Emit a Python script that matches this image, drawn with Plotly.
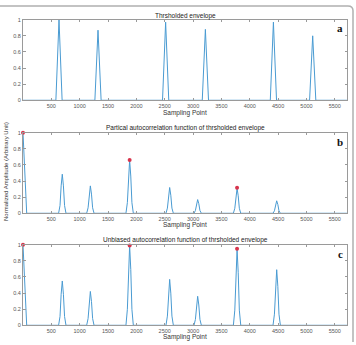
import plotly.graph_objects as go
from plotly.subplots import make_subplots

# ---------------- data ----------------
# Panel a: thresholded envelope (triangular peaks)
a_x = [0, 580, 635, 690, 1268, 1323, 1378, 2461, 2516, 2571, 3162, 3217, 3272,
       4362, 4417, 4472, 5055, 5110, 5165, 5715]
a_y = [0, 0, 1.0, 0, 0, 0.87, 0, 0, 0.97, 0, 0, 0.88, 0,
       0, 0.97, 0, 0, 0.80, 0, 0]

# Panel b: partial autocorrelation
b_x = [0, 20, 40, 65,
       628, 653, 673, 693, 713, 733, 758,
       1123, 1148, 1168, 1188, 1208, 1228, 1253,
       1816, 1841, 1861, 1881, 1901, 1921, 1946,
       2522, 2547, 2567, 2587, 2607, 2627, 2652,
       3016, 3041, 3061, 3081, 3101, 3121, 3146,
       3711, 3736, 3756, 3776, 3796, 3816, 3841,
       4410, 4435, 4455, 4475, 4495, 4515, 4540,
       5715]
b_y = [1.0, 0.7, 0.2, 0,
       0, 0.097, 0.34, 0.485, 0.34, 0.097, 0,
       0, 0.068, 0.238, 0.34, 0.238, 0.068, 0,
       0, 0.132, 0.462, 0.66, 0.462, 0.132, 0,
       0, 0.064, 0.224, 0.32, 0.224, 0.064, 0,
       0, 0.034, 0.119, 0.17, 0.119, 0.034, 0,
       0, 0.062, 0.217, 0.31, 0.217, 0.062, 0,
       0, 0.031, 0.109, 0.155, 0.109, 0.031, 0,
       0]
b_mark_x = [0, 1881, 3776]
b_mark_y = [1.0, 0.66, 0.318]

# Panel c: unbiased autocorrelation
c_x = b_x
c_y = [1.0, 0.7, 0.2, 0,
       0, 0.11, 0.385, 0.55, 0.385, 0.11, 0,
       0, 0.084, 0.294, 0.42, 0.294, 0.084, 0,
       0, 0.198, 0.693, 0.99, 0.693, 0.198, 0,
       0, 0.114, 0.399, 0.57, 0.399, 0.114, 0,
       0, 0.072, 0.252, 0.36, 0.252, 0.072, 0,
       0, 0.188, 0.658, 0.94, 0.658, 0.188, 0,
       0, 0.138, 0.483, 0.69, 0.483, 0.138, 0,
       0]
c_mark_x = [0, 1881, 3776]
c_mark_y = [1.0, 0.99, 0.95]

titles = ["Thrsholded envelope",
          "Partical autocorrelation function of thrsholded envelope",
          "Unbiased autocorrelation function of thrsholded envelope"]
panel_letters = ["a", "b", "c"]
x_ticks = [500, 1000, 1500, 2000, 2500, 3000, 3500, 4000, 4500, 5000, 5500]
y_ticks = [0, 0.2, 0.4, 0.6, 0.8, 1]
y_tick_text = ["0", "0.2", "0.4", "0.6", "0.8", "1"]

# ---------------- layout geometry ----------------
W, H = 356, 345
L, R = 23, 9
PW = W - L - R
# pixel top/bottom of each plot area
panels_px = [(17, 99), (132, 214), (246, 328)]

def py(p):
    return 1 - p / H

def px(p):
    return (p - L) / PW

fig = make_subplots(rows=3, cols=1)

line_col = "#4a9bd2"
mark_col = "#d8344c"
series = [(a_x, a_y, None, None), (b_x, b_y, b_mark_x, b_mark_y), (c_x, c_y, c_mark_x, c_mark_y)]
for i, (xs, ys, mx, my) in enumerate(series):
    fig.add_trace(go.Scatter(x=xs, y=ys, mode="lines",
                             line=dict(color=line_col, width=1), showlegend=False),
                  row=i + 1, col=1)
    if mx is not None:
        fig.add_trace(go.Scatter(x=mx, y=my, mode="markers", cliponaxis=False,
                                 marker=dict(color=mark_col, size=4, symbol="circle"),
                                 showlegend=False),
                      row=i + 1, col=1)

tickfont = dict(family="Liberation Sans, Arial, sans-serif", size=5.5, color="#555555")
axcol = "#9a9a9a"
for i, (t, b) in enumerate(panels_px):
    xa = "xaxis" if i == 0 else f"xaxis{i+1}"
    ya = "yaxis" if i == 0 else f"yaxis{i+1}"
    fig.layout[xa].update(domain=[0, 1], range=[0, 5715], tickvals=x_ticks,
                          ticks="inside", ticklen=2.5, tickcolor=axcol,
                          showline=True, linecolor=axcol, linewidth=1, mirror="ticks",
                          showgrid=False, zeroline=False, tickfont=tickfont)
    fig.layout[ya].update(domain=[py(b), py(t)], range=[0, 1], tickvals=y_ticks,
                          ticktext=y_tick_text,
                          ticks="inside", ticklen=2.5, tickcolor=axcol,
                          showline=True, linecolor=axcol, linewidth=1, mirror="ticks",
                          showgrid=False, zeroline=False, tickfont=tickfont)

annotations = []
title_y = [13, 127, 241]
xlab_y = [111.5, 226, 339.5]
letter_y = [25, 141, 255]
for i in range(3):
    annotations.append(dict(text=titles[i], x=0.5, y=py(title_y[i]), xref="paper", yref="paper",
                            showarrow=False, xanchor="center", yanchor="middle",
                            font=dict(family="Liberation Sans, Arial, sans-serif", size=6.5, color="#222222")))
    annotations.append(dict(text="Sampling Point", x=0.5, y=py(xlab_y[i]), xref="paper", yref="paper",
                            showarrow=False, xanchor="center", yanchor="middle",
                            font=dict(family="Liberation Sans, Arial, sans-serif", size=6.5, color="#333333")))
    annotations.append(dict(text="<b>" + panel_letters[i] + "</b>", x=px(340), y=py(letter_y[i]),
                            xref="paper", yref="paper", showarrow=False,
                            xanchor="center", yanchor="middle",
                            font=dict(family="Liberation Serif, Times New Roman, serif", size=11, color="#111111")))
annotations.append(dict(text="Normalized Amplitude (Arbitrary Unit)", x=px(6), y=py(172),
                        xref="paper", yref="paper", showarrow=False, textangle=-90,
                        xanchor="center", yanchor="middle",
                        font=dict(family="Liberation Sans, Arial, sans-serif", size=6, color="#333333")))

frame_path = (f"M {px(0)},{py(3)} L {px(348)},{py(3)} "
              f"Q {px(353)},{py(3)} {px(353)},{py(8)} L {px(353)},{py(345)}")
shapes = [dict(type="path", path=frame_path, xref="paper", yref="paper",
               line=dict(color="#b0b0b0", width=1.5))]

fig.update_layout(width=W, height=H, margin=dict(l=L, r=R, t=0, b=0),
                  paper_bgcolor="white", plot_bgcolor="white",
                  annotations=annotations, shapes=shapes, showlegend=False)

fig.write_html("out.html")
